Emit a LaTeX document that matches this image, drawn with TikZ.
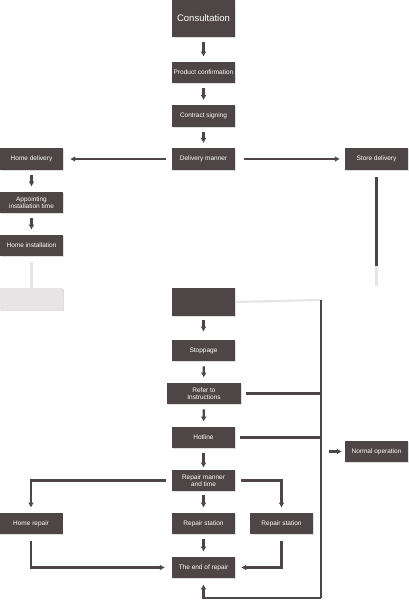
\documentclass[tikz,border=0pt]{standalone}
\usepackage{fontspec}
\setmainfont{Liberation Sans}
\usepackage{tikz}
\usetikzlibrary{arrows.meta,positioning,shadows}
\definecolor{boxgray}{HTML}{4E4546}
\definecolor{fadegray}{HTML}{E6E4E4}

\begin{document}
\begin{tikzpicture}[x=1pt,y=-1pt,
    stepbox/.style={fill=boxgray,text=white,minimum width=63pt,minimum height=21.5pt,
      inner sep=1pt,align=center,font=\fontsize{6.5}{7}\selectfont,
      drop shadow={shadow xshift=0.8pt,shadow yshift=-0.8pt,opacity=0.25}},
    link/.style={draw=boxgray,line width=2.2pt,-{Latex[length=5pt,width=6pt]}},
    wire/.style={draw=boxgray,line width=2.2pt},
    faint/.style={draw=fadegray,line width=2.2pt}]
      \useasboundingbox (0,0) rectangle (408,600);
      % sale part
      \node[stepbox,minimum height=37pt,font=\fontsize{9.5}{10}\selectfont] (cons) at (203.5,18.5) {Consultation};
      \node[stepbox] (prod) at (203.5,72.5) {Product confirmation};
      \node[stepbox] (contr) at (203.5,116) {Contract signing};
      \node[stepbox] (deliv) at (203.5,159) {Delivery manner};
      \node[stepbox] (homedel) at (31.5,159) {Home delivery};
      \node[stepbox] (store) at (376.5,159) {Store delivery};
      \node[stepbox] (appoint) at (31.5,202.5) {Appointing\\installation time};
      \node[stepbox] (homeinst) at (31.5,245.5) {Home installation};
      \node[stepbox,fill=fadegray,drop shadow={opacity=0}] (lost) at (31.5,299) {};
      \node[stepbox,minimum height=28pt] (hidden) at (203.5,302) {};
      % service part
      \node[stepbox] (stop) at (203.5,350.5) {Stoppage};
      \node[stepbox,minimum width=74pt] (refer) at (204,393.5) {Refer to\\Instructions};
      \node[stepbox] (hot) at (203.5,437.5) {Hotline};
      \node[stepbox] (normal) at (376.5,451.5) {Normal operation};
      \node[stepbox] (rman) at (203.5,480.5) {Repair manner\\and time};
      \node[stepbox] (hrep) at (31,523.5) {Home repair};
      \node[stepbox] (rst1) at (203.5,523.5) {Repair station};
      \node[stepbox] (rst2) at (281.5,523.5) {Repair station};
      \node[stepbox] (endr) at (203.5,567.5) {The end of repair};
      \coordinate (busTop) at (321,300);
      \coordinate (busBot) at (321,598);

      \draw[link,shorten <=5pt,shorten >=5pt] (cons) -- (prod);
      \draw[link,shorten <=5pt,shorten >=5pt] (prod) -- (contr);
      \draw[link,shorten <=5pt,shorten >=5pt] (contr) -- (deliv);
      \draw[link,shorten <=6pt,shorten >=7pt] (deliv) -- (homedel);
      \draw[link,shorten <=9pt,shorten >=5pt] (deliv) -- (store);
      \draw[link,shorten <=5pt,shorten >=5pt] (homedel) -- (appoint);
      \draw[link,shorten <=5pt,shorten >=5pt] (appoint) -- (homeinst);
      % faded ends under the mark
      \draw[faint,shorten <=6pt] (homeinst) -- (lost);
      \draw[wire,shorten <=7pt] (store.south) -- ++(0,96) coordinate (storeEnd);
      \draw[faint] (storeEnd) -- ++(0,20);
      \draw[faint] (hidden.east) -- (busTop);
      \draw[wire] (busTop) -- (busBot);

      \draw[link,shorten <=4pt,shorten >=8pt] (hidden) -- (stop);
      \draw[link,shorten <=5pt,shorten >=5pt] (stop) -- (refer);
      \draw[link,shorten <=5pt,shorten >=5pt] (refer) -- (hot);
      \draw[link,shorten <=5pt,shorten >=2pt] (hot) -- (rman);
      \draw[wire,shorten <=5pt] (refer.east) -- (refer.east -| busTop);
      \draw[wire,shorten <=5pt] (hot.east) -- (hot.east -| busTop);
      \draw[link,shorten <=8pt,shorten >=3pt] (normal.west -| busTop) -- (normal.west);
      \draw[link,shorten <=6pt,shorten >=5pt] (rman.west) -| (hrep.north);
      \draw[link,shorten <=6pt,shorten >=5pt] (rman.east) -| (rst2.north);
      \draw[link,shorten <=4pt,shorten >=5pt] (rman) -- (rst1);
      \draw[link,shorten <=5pt,shorten >=5pt] (rst1) -- (endr);
      \draw[link,shorten <=7pt,shorten >=7pt] (hrep.south) |- (endr.west);
      \draw[link,shorten <=7pt,shorten >=6pt] (rst2.south) |- (endr.east);
      \draw[link,shorten >=6pt] (busBot) -| (endr.south);
\end{tikzpicture}
\end{document}
